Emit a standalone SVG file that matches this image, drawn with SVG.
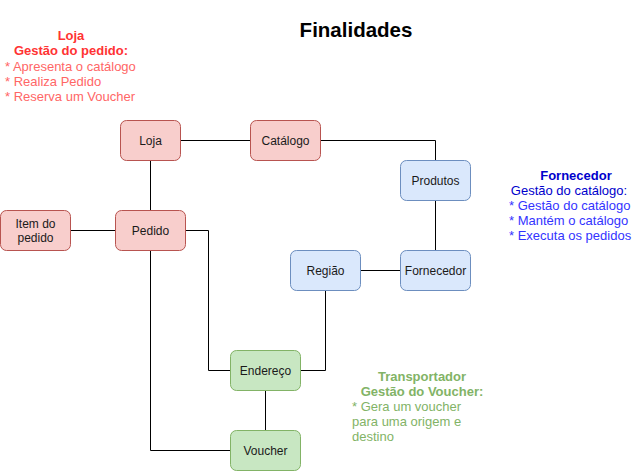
<svg xmlns="http://www.w3.org/2000/svg" width="641" height="471" viewBox="0 0 641 471">
<style>
.n rect{stroke-width:1}
.red rect{fill:#F8CECC;stroke:#B85450}
.blue rect{fill:#DAE8FC;stroke:#6C8EBF}
.green rect{fill:#C8E7C2;stroke:#82B366}
.n text{font-family:"Liberation Sans",Arial,sans-serif;font-size:12px;fill:#1a1a1a;text-anchor:middle}
.e{fill:none;stroke:#000;stroke-width:1}
.t{font-family:"Liberation Sans",Arial,sans-serif;font-size:13px}
.b{font-weight:bold}
.c{text-anchor:middle}
</style>
<rect width="641" height="471" fill="#fff"/>
<text x="356" y="37" class="t b c" style="font-size:20.5px" fill="#000">Finalidades</text>

<g id="connectors">
<path class="e" d="M180.5,140.5 H250.5"/>
<path class="e" d="M320.5,140.5 H435.5 V160.5"/>
<path class="e" d="M435.5,200.5 V250.5"/>
<path class="e" d="M360.5,270.5 H400.5"/>
<path class="e" d="M150.5,160.5 V210.5"/>
<path class="e" d="M70.5,230.5 H115.5"/>
<path class="e" d="M185.5,230.5 H208.5 V370.5 H230.5"/>
<path class="e" d="M150.5,250.5 V450.5 H230.5"/>
<path class="e" d="M325.5,290.5 V370.5 H300.5"/>
<path class="e" d="M265.5,390.5 V430.5"/>
</g>

<g id="loja" class="n red"><rect x="120.5" y="120.5" width="60" height="40" rx="6"/><text x="150.5" y="145">Loja</text></g>
<g id="catalogo" class="n red"><rect x="250.5" y="120.5" width="70" height="40" rx="6"/><text x="285.5" y="145">Catálogo</text></g>
<g id="produtos" class="n blue"><rect x="400.5" y="160.5" width="70" height="40" rx="6"/><text x="435.5" y="185">Produtos</text></g>
<g id="fornecedor" class="n blue"><rect x="400.5" y="250.5" width="70" height="40" rx="6"/><text x="435.5" y="275">Fornecedor</text></g>
<g id="regiao" class="n blue"><rect x="290.5" y="250.5" width="70" height="40" rx="6"/><text x="325.5" y="275">Região</text></g>
<g id="item" class="n red"><rect x="0.5" y="210.5" width="70" height="40" rx="6"/><text x="35.5" y="228">Item do</text><text x="35.5" y="242">pedido</text></g>
<g id="pedido" class="n red"><rect x="115.5" y="210.5" width="70" height="40" rx="6"/><text x="150.5" y="235">Pedido</text></g>
<g id="endereco" class="n green"><rect x="230.5" y="350.5" width="70" height="40" rx="6"/><text x="265.5" y="375">Endereço</text></g>
<g id="voucher" class="n green"><rect x="230.5" y="430.5" width="70" height="40" rx="6"/><text x="265.5" y="455">Voucher</text></g>

<g id="nota-loja">
<text x="71" y="40" class="t b c" fill="#FF3333">Loja</text>
<text x="71" y="55" class="t b c" fill="#FF3333">Gestão do pedido:</text>
<text x="5" y="71" class="t" fill="#FF6666">* Apresenta o catálogo</text>
<text x="5" y="86" class="t" fill="#FF6666">* Realiza Pedido</text>
<text x="5" y="101" class="t" fill="#FF6666">* Reserva um Voucher</text>
</g>

<g id="nota-fornecedor">
<text x="576" y="180" class="t b c" fill="#0000CC">Fornecedor</text>
<text x="569" y="195" class="t c" fill="#0000CC">Gestão do catálogo:</text>
<text x="509" y="210" class="t" fill="#3333FF">* Gestão do catálogo</text>
<text x="509" y="225" class="t" fill="#3333FF">* Mantém o catálogo</text>
<text x="509" y="240" class="t" fill="#3333FF">* Executa os pedidos</text>
</g>

<g id="nota-transportador">
<text x="422" y="381" class="t b c" fill="#82B366">Transportador</text>
<text x="422" y="396" class="t b c" fill="#82B366">Gestão do Voucher:</text>
<text x="352" y="411" class="t" fill="#82B366">* Gera um voucher</text>
<text x="352" y="426" class="t" fill="#82B366">para uma origem e</text>
<text x="352" y="441" class="t" fill="#82B366">destino</text>
</g>
</svg>
